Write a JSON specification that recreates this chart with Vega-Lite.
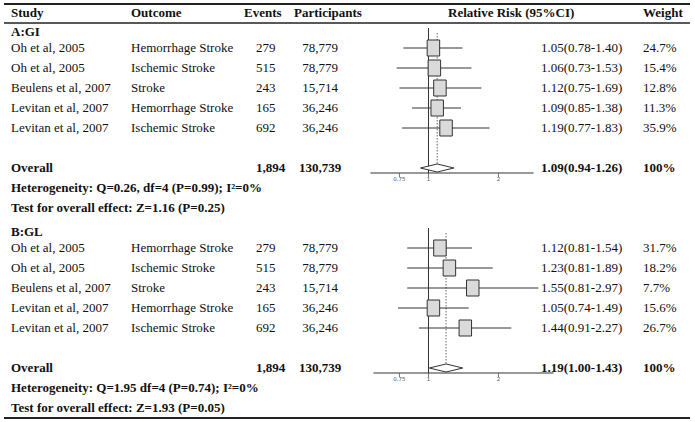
{
  "$schema": "https://vega.github.io/schema/vega-lite/v6.json",
  "autosize": {"type": "fit", "contains": "padding"},
  "width": 695,
  "height": 422,
  "padding": {"left": 3, "right": 4, "top": 0, "bottom": 0},
  "background": "white",
  "config": {
    "view": {"stroke": null},
    "axis": {"disable": true},
    "font": "Liberation Serif",
    "text": {"font": "Liberation Serif", "fontSize": 13, "color": "#111", "baseline": "middle", "align": "left"}
  },
  "datasets": {
    "header": [
      {"c": 0, "t": "Study"},
      {"c": 1, "t": "Outcome"},
      {"c": 2, "t": "Events"},
      {"c": 4, "t": "Participants"},
      {"c": 6, "t": "Relative Risk (95%CI)"},
      {"c": 8, "t": "Weight"}
    ],
    "studies": [
      {"sec": "A", "row": 2, "study": "Oh et al, 2005", "outcome": "Hemorrhage Stroke", "events": "279", "participants": "78,779", "rr": "1.05(0.78-1.40)", "weight": "24.7%", "est": 1.05, "lo": 0.78, "hi": 1.40},
      {"sec": "A", "row": 3, "study": "Oh et al, 2005", "outcome": "Ischemic Stroke", "events": "515", "participants": "78,779", "rr": "1.06(0.73-1.53)", "weight": "15.4%", "est": 1.06, "lo": 0.73, "hi": 1.53},
      {"sec": "A", "row": 4, "study": "Beulens et al, 2007", "outcome": "Stroke", "events": "243", "participants": "15,714", "rr": "1.12(0.75-1.69)", "weight": "12.8%", "est": 1.12, "lo": 0.75, "hi": 1.69},
      {"sec": "A", "row": 5, "study": "Levitan et al, 2007", "outcome": "Hemorrhage Stroke", "events": "165", "participants": "36,246", "rr": "1.09(0.85-1.38)", "weight": "11.3%", "est": 1.09, "lo": 0.85, "hi": 1.38},
      {"sec": "A", "row": 6, "study": "Levitan et al, 2007", "outcome": "Ischemic Stroke", "events": "692", "participants": "36,246", "rr": "1.19(0.77-1.83)", "weight": "35.9%", "est": 1.19, "lo": 0.77, "hi": 1.83},
      {"sec": "B", "row": 12, "study": "Oh et al, 2005", "outcome": "Hemorrhage Stroke", "events": "279", "participants": "78,779", "rr": "1.12(0.81-1.54)", "weight": "31.7%", "est": 1.12, "lo": 0.81, "hi": 1.54},
      {"sec": "B", "row": 13, "study": "Oh et al, 2005", "outcome": "Ischemic Stroke", "events": "515", "participants": "78,779", "rr": "1.23(0.81-1.89)", "weight": "18.2%", "est": 1.23, "lo": 0.81, "hi": 1.89},
      {"sec": "B", "row": 14, "study": "Beulens et al, 2007", "outcome": "Stroke", "events": "243", "participants": "15,714", "rr": "1.55(0.81-2.97)", "weight": "7.7%", "est": 1.55, "lo": 0.81, "hi": 2.97},
      {"sec": "B", "row": 15, "study": "Levitan et al, 2007", "outcome": "Hemorrhage Stroke", "events": "165", "participants": "36,246", "rr": "1.05(0.74-1.49)", "weight": "15.6%", "est": 1.05, "lo": 0.74, "hi": 1.49},
      {"sec": "B", "row": 16, "study": "Levitan et al, 2007", "outcome": "Ischemic Stroke", "events": "692", "participants": "36,246", "rr": "1.44(0.91-2.27)", "weight": "26.7%", "est": 1.44, "lo": 0.91, "hi": 2.27}
    ],
    "overall": [
      {"sec": "A", "hdr": 1, "row": 8, "events": "1,894", "participants": "130,739", "rr": "1.09(0.94-1.26)", "weight": "100%", "est": 1.09, "lo": 0.94, "hi": 1.26},
      {"sec": "B", "hdr": 11, "row": 18, "events": "1,894", "participants": "130,739", "rr": "1.19(1.00-1.43)", "weight": "100%", "est": 1.19, "lo": 1.00, "hi": 1.43}
    ],
    "lines": [
      {"row": 1, "kind": "section", "text": "A:GI"},
      {"row": 8, "kind": "line", "text": "Overall"},
      {"row": 9, "kind": "line", "text": "Heterogeneity: Q=0.26, df=4 (P=0.99); I²=0%"},
      {"row": 10, "kind": "line", "text": "Test for overall effect: Z=1.16 (P=0.25)"},
      {"row": 11, "kind": "section", "text": "B:GL"},
      {"row": 18, "kind": "line", "text": "Overall"},
      {"row": 19, "kind": "line", "text": "Heterogeneity: Q=1.95 df=4 (P=0.74); I²=0%"},
      {"row": 20, "kind": "line", "text": "Test for overall effect: Z=1.93 (P=0.05)"}
    ],
    "ticks": [
      {"row": 8, "v": 0.75, "label": "0.75"},
      {"row": 8, "v": 1, "label": "1"},
      {"row": 8, "v": 2, "label": "2"},
      {"row": 18, "v": 0.75, "label": "0.75"},
      {"row": 18, "v": 1, "label": "1"},
      {"row": 18, "v": 2, "label": "2"}
    ]
  },
  "layer": [
    {
      "layer": [
        {
          "data": {"values": [{}]},
          "mark": {"type": "rule", "color": "#222", "strokeWidth": 2},
          "encoding": {
            "y": {"datum": -0.2, "type": "quantitative", "axis": null, "scale": {"domain": [-0.4, 20.7], "reverse": true, "nice": false, "zero": false}}
          }
        },
        {
          "data": {"values": [{}]},
          "mark": {"type": "rule", "color": "#222", "strokeWidth": 1.3},
          "encoding": {"y": {"datum": 0.75, "type": "quantitative"}}
        },
        {
          "data": {"values": [{}]},
          "mark": {"type": "rule", "color": "#222", "strokeWidth": 2},
          "encoding": {"y": {"datum": 20.5, "type": "quantitative"}}
        },
        {
          "data": {"name": "header"},
          "mark": {"type": "text", "fontWeight": "bold", "dy": 5},
          "encoding": {
            "x": {"field": "c", "type": "quantitative", "scale": {"domain": [0, 1, 2, 3, 4, 5, 6, 7, 8], "range": [7, 127, 240, 252, 290, 316, 444, 537, 639], "nice": false, "zero": false}},
            "y": {"datum": 0, "type": "quantitative"},
            "text": {"field": "t"}
          }
        },
        {
          "data": {"name": "lines"},
          "transform": [{"filter": "datum.kind === 'section'"}],
          "mark": {"type": "text", "fontWeight": "bold", "dy": 4},
          "encoding": {
            "x": {"datum": 0, "type": "quantitative"},
            "y": {"field": "row", "type": "quantitative"},
            "text": {"field": "text"}
          }
        },
        {
          "data": {"name": "lines"},
          "transform": [{"filter": "datum.kind !== 'section'"}],
          "mark": {"type": "text", "fontWeight": "bold"},
          "encoding": {
            "x": {"datum": 0, "type": "quantitative"},
            "y": {"field": "row", "type": "quantitative"},
            "text": {"field": "text"}
          }
        },
        {
          "data": {"name": "studies"},
          "mark": {"type": "text"},
          "encoding": {"x": {"datum": 0, "type": "quantitative"}, "y": {"field": "row", "type": "quantitative"}, "text": {"field": "study"}}
        },
        {
          "data": {"name": "studies"},
          "mark": {"type": "text"},
          "encoding": {"x": {"datum": 1, "type": "quantitative"}, "y": {"field": "row", "type": "quantitative"}, "text": {"field": "outcome"}}
        },
        {
          "data": {"name": "studies"},
          "mark": {"type": "text"},
          "encoding": {"x": {"datum": 3, "type": "quantitative"}, "y": {"field": "row", "type": "quantitative"}, "text": {"field": "events"}}
        },
        {
          "data": {"name": "studies"},
          "mark": {"type": "text", "align": "center"},
          "encoding": {"x": {"datum": 5, "type": "quantitative"}, "y": {"field": "row", "type": "quantitative"}, "text": {"field": "participants"}}
        },
        {
          "data": {"name": "studies"},
          "mark": {"type": "text"},
          "encoding": {"x": {"datum": 7, "type": "quantitative"}, "y": {"field": "row", "type": "quantitative"}, "text": {"field": "rr"}}
        },
        {
          "data": {"name": "studies"},
          "mark": {"type": "text"},
          "encoding": {"x": {"datum": 8, "type": "quantitative"}, "y": {"field": "row", "type": "quantitative"}, "text": {"field": "weight"}}
        },
        {
          "data": {"name": "overall"},
          "mark": {"type": "text", "fontWeight": "bold"},
          "encoding": {"x": {"datum": 3, "type": "quantitative"}, "y": {"field": "row", "type": "quantitative"}, "text": {"field": "events"}}
        },
        {
          "data": {"name": "overall"},
          "mark": {"type": "text", "fontWeight": "bold", "align": "center"},
          "encoding": {"x": {"datum": 5, "type": "quantitative"}, "y": {"field": "row", "type": "quantitative"}, "text": {"field": "participants"}}
        },
        {
          "data": {"name": "overall"},
          "mark": {"type": "text", "fontWeight": "bold"},
          "encoding": {"x": {"datum": 7, "type": "quantitative"}, "y": {"field": "row", "type": "quantitative"}, "text": {"field": "rr"}}
        },
        {
          "data": {"name": "overall"},
          "mark": {"type": "text", "fontWeight": "bold"},
          "encoding": {"x": {"datum": 8, "type": "quantitative"}, "y": {"field": "row", "type": "quantitative"}, "text": {"field": "weight"}}
        }
      ]
    },
    {
      "layer": [
        {
          "data": {"name": "overall"},
          "mark": {"type": "rule", "color": "#333", "strokeWidth": 1, "y2Offset": 5},
          "encoding": {
            "x": {"datum": 1, "type": "quantitative", "scale": {"type": "log", "domain": [0.5, 3.5], "range": [354.5, 551], "nice": false}},
            "y": {"field": "hdr", "type": "quantitative"},
            "y2": {"field": "row"}
          }
        },
        {
          "data": {"name": "overall"},
          "mark": {"type": "rule", "color": "#666", "strokeWidth": 1, "strokeDash": [1.5, 1.5], "yOffset": 5, "y2Offset": -4},
          "encoding": {
            "x": {"field": "est", "type": "quantitative"},
            "y": {"field": "hdr", "type": "quantitative"},
            "y2": {"field": "row"}
          }
        },
        {
          "data": {"name": "overall"},
          "transform": [{"filter": "datum.sec === 'A'"}],
          "mark": {"type": "rule", "color": "#333", "strokeWidth": 1, "yOffset": 5},
          "encoding": {
            "x": {"datum": 0.563, "type": "quantitative"},
            "x2": {"datum": 2.83},
            "y": {"field": "row", "type": "quantitative"}
          }
        },
        {
          "data": {"name": "overall"},
          "transform": [{"filter": "datum.sec === 'B'"}],
          "mark": {"type": "rule", "color": "#333", "strokeWidth": 1, "yOffset": 5},
          "encoding": {
            "x": {"datum": 0.58, "type": "quantitative"},
            "x2": {"datum": 3.45},
            "y": {"field": "row", "type": "quantitative"}
          }
        },
        {
          "data": {"name": "ticks"},
          "mark": {"type": "rule", "color": "#555", "strokeWidth": 0.8, "yOffset": 5, "y2Offset": 9},
          "encoding": {
            "x": {"field": "v", "type": "quantitative"},
            "y": {"field": "row", "type": "quantitative"},
            "y2": {"field": "row"}
          }
        },
        {
          "data": {"name": "ticks"},
          "mark": {"type": "text", "fontSize": 5.5, "color": "#555", "align": "center", "dy": 11, "font": "DejaVu Sans"},
          "encoding": {
            "x": {"field": "v", "type": "quantitative"},
            "y": {"field": "row", "type": "quantitative"},
            "text": {"field": "label"}
          }
        },
        {
          "data": {"name": "studies"},
          "mark": {"type": "rule", "color": "#333", "strokeWidth": 1},
          "encoding": {
            "x": {"field": "lo", "type": "quantitative"},
            "x2": {"field": "hi"},
            "y": {"field": "row", "type": "quantitative"}
          }
        },
        {
          "data": {"name": "studies"},
          "mark": {"type": "point", "shape": "M-0.78,-1L0.78,-1L0.78,1L-0.78,1Z", "size": 256, "filled": true, "fill": "#dadada", "stroke": "#333", "strokeWidth": 1, "opacity": 1},
          "encoding": {
            "x": {"field": "est", "type": "quantitative"},
            "y": {"field": "row", "type": "quantitative"}
          }
        },
        {
          "data": {"name": "overall"},
          "mark": {"type": "point", "shape": "M-1,0L0,-0.24L1,0L0,0.24Z", "size": 1116, "filled": true, "fill": "white", "stroke": "#333", "strokeWidth": 1, "opacity": 1},
          "encoding": {
            "x": {"field": "est", "type": "quantitative"},
            "y": {"field": "row", "type": "quantitative"}
          }
        }
      ]
    }
  ],
  "resolve": {"scale": {"x": "independent"}}
}
